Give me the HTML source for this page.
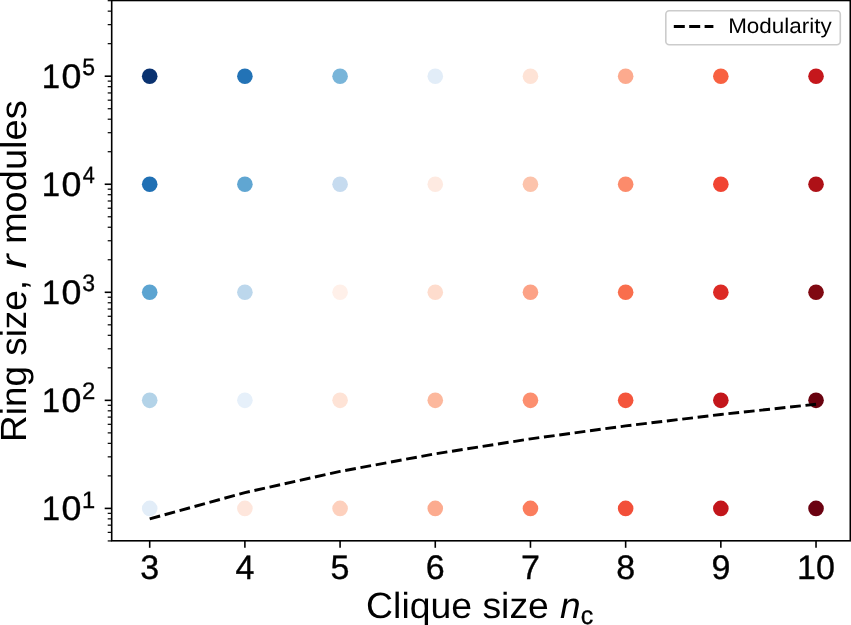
<!DOCTYPE html><html><head><meta charset="utf-8"><style>html,body{margin:0;padding:0;background:#fff;width:851px;height:625px;overflow:hidden}svg{display:block;will-change:transform}text{font-family:"Liberation Sans",sans-serif;fill:#000;text-rendering:geometricPrecision}</style></head><body>
<svg width="851" height="625" viewBox="0 0 851 625">
<rect x="0" y="0" width="851" height="625" fill="#fff"/>
<circle cx="149.70" cy="76.20" r="7.8" fill="#0a3270"/>
<circle cx="244.89" cy="76.20" r="7.8" fill="#2373b6"/>
<circle cx="340.08" cy="76.20" r="7.8" fill="#79b5d9"/>
<circle cx="435.27" cy="76.20" r="7.8" fill="#e2edf8"/>
<circle cx="530.46" cy="76.20" r="7.8" fill="#fee3d6"/>
<circle cx="625.65" cy="76.20" r="7.8" fill="#fcaa8e"/>
<circle cx="720.84" cy="76.20" r="7.8" fill="#f86141"/>
<circle cx="816.03" cy="76.20" r="7.8" fill="#c5171c"/>
<circle cx="149.70" cy="184.25" r="7.8" fill="#2070b4"/>
<circle cx="244.89" cy="184.25" r="7.8" fill="#60a6d2"/>
<circle cx="340.08" cy="184.25" r="7.8" fill="#c6dbef"/>
<circle cx="435.27" cy="184.25" r="7.8" fill="#feeae1"/>
<circle cx="530.46" cy="184.25" r="7.8" fill="#fcc3ab"/>
<circle cx="625.65" cy="184.25" r="7.8" fill="#fc8b6b"/>
<circle cx="720.84" cy="184.25" r="7.8" fill="#f14432"/>
<circle cx="816.03" cy="184.25" r="7.8" fill="#ae1117"/>
<circle cx="149.70" cy="292.30" r="7.8" fill="#5ca4d1"/>
<circle cx="244.89" cy="292.30" r="7.8" fill="#bcd7ec"/>
<circle cx="340.08" cy="292.30" r="7.8" fill="#fff0e9"/>
<circle cx="435.27" cy="292.30" r="7.8" fill="#fedccd"/>
<circle cx="530.46" cy="292.30" r="7.8" fill="#fca286"/>
<circle cx="625.65" cy="292.30" r="7.8" fill="#f96e4d"/>
<circle cx="720.84" cy="292.30" r="7.8" fill="#dc2a25"/>
<circle cx="816.03" cy="292.30" r="7.8" fill="#800912"/>
<circle cx="149.70" cy="400.35" r="7.8" fill="#b3d3e8"/>
<circle cx="244.89" cy="400.35" r="7.8" fill="#e6f0fa"/>
<circle cx="340.08" cy="400.35" r="7.8" fill="#fee3d6"/>
<circle cx="435.27" cy="400.35" r="7.8" fill="#fcb89d"/>
<circle cx="530.46" cy="400.35" r="7.8" fill="#fc8f6f"/>
<circle cx="625.65" cy="400.35" r="7.8" fill="#f4553c"/>
<circle cx="720.84" cy="400.35" r="7.8" fill="#c3161b"/>
<circle cx="816.03" cy="400.35" r="7.8" fill="#69020f"/>
<circle cx="149.70" cy="508.40" r="7.8" fill="#e2edf8"/>
<circle cx="244.89" cy="508.40" r="7.8" fill="#fee6dc"/>
<circle cx="340.08" cy="508.40" r="7.8" fill="#fdd0bd"/>
<circle cx="435.27" cy="508.40" r="7.8" fill="#fcab8f"/>
<circle cx="530.46" cy="508.40" r="7.8" fill="#fb7d5d"/>
<circle cx="625.65" cy="508.40" r="7.8" fill="#f24f39"/>
<circle cx="720.84" cy="508.40" r="7.8" fill="#c2161b"/>
<circle cx="816.03" cy="508.40" r="7.8" fill="#6b0211"/>
<path d="M149.70,518.87 L244.89,492.61 L340.08,471.40 L435.27,453.82 L530.46,438.87 L625.65,425.91 L720.84,414.48 L816.03,404.26" fill="none" stroke="#000" stroke-width="2.9" stroke-dasharray="10.8,4.7"/>
<rect x="111.7" y="0.5" width="738.5999999999999" height="540.3" fill="none" stroke="#000" stroke-width="1.6"/>
<line x1="104.7" y1="508.40" x2="111.7" y2="508.40" stroke="#000" stroke-width="1.6"/>
<line x1="104.7" y1="400.35" x2="111.7" y2="400.35" stroke="#000" stroke-width="1.6"/>
<line x1="104.7" y1="292.30" x2="111.7" y2="292.30" stroke="#000" stroke-width="1.6"/>
<line x1="104.7" y1="184.25" x2="111.7" y2="184.25" stroke="#000" stroke-width="1.6"/>
<line x1="104.7" y1="76.20" x2="111.7" y2="76.20" stroke="#000" stroke-width="1.6"/>
<line x1="107.7" y1="540.93" x2="111.7" y2="540.93" stroke="#000" stroke-width="1.2"/>
<line x1="107.7" y1="532.37" x2="111.7" y2="532.37" stroke="#000" stroke-width="1.2"/>
<line x1="107.7" y1="525.14" x2="111.7" y2="525.14" stroke="#000" stroke-width="1.2"/>
<line x1="107.7" y1="518.87" x2="111.7" y2="518.87" stroke="#000" stroke-width="1.2"/>
<line x1="107.7" y1="513.34" x2="111.7" y2="513.34" stroke="#000" stroke-width="1.2"/>
<line x1="107.7" y1="475.87" x2="111.7" y2="475.87" stroke="#000" stroke-width="1.2"/>
<line x1="107.7" y1="456.85" x2="111.7" y2="456.85" stroke="#000" stroke-width="1.2"/>
<line x1="107.7" y1="443.35" x2="111.7" y2="443.35" stroke="#000" stroke-width="1.2"/>
<line x1="107.7" y1="432.88" x2="111.7" y2="432.88" stroke="#000" stroke-width="1.2"/>
<line x1="107.7" y1="424.32" x2="111.7" y2="424.32" stroke="#000" stroke-width="1.2"/>
<line x1="107.7" y1="417.09" x2="111.7" y2="417.09" stroke="#000" stroke-width="1.2"/>
<line x1="107.7" y1="410.82" x2="111.7" y2="410.82" stroke="#000" stroke-width="1.2"/>
<line x1="107.7" y1="405.29" x2="111.7" y2="405.29" stroke="#000" stroke-width="1.2"/>
<line x1="107.7" y1="367.82" x2="111.7" y2="367.82" stroke="#000" stroke-width="1.2"/>
<line x1="107.7" y1="348.80" x2="111.7" y2="348.80" stroke="#000" stroke-width="1.2"/>
<line x1="107.7" y1="335.30" x2="111.7" y2="335.30" stroke="#000" stroke-width="1.2"/>
<line x1="107.7" y1="324.83" x2="111.7" y2="324.83" stroke="#000" stroke-width="1.2"/>
<line x1="107.7" y1="316.27" x2="111.7" y2="316.27" stroke="#000" stroke-width="1.2"/>
<line x1="107.7" y1="309.04" x2="111.7" y2="309.04" stroke="#000" stroke-width="1.2"/>
<line x1="107.7" y1="302.77" x2="111.7" y2="302.77" stroke="#000" stroke-width="1.2"/>
<line x1="107.7" y1="297.24" x2="111.7" y2="297.24" stroke="#000" stroke-width="1.2"/>
<line x1="107.7" y1="259.77" x2="111.7" y2="259.77" stroke="#000" stroke-width="1.2"/>
<line x1="107.7" y1="240.75" x2="111.7" y2="240.75" stroke="#000" stroke-width="1.2"/>
<line x1="107.7" y1="227.25" x2="111.7" y2="227.25" stroke="#000" stroke-width="1.2"/>
<line x1="107.7" y1="216.78" x2="111.7" y2="216.78" stroke="#000" stroke-width="1.2"/>
<line x1="107.7" y1="208.22" x2="111.7" y2="208.22" stroke="#000" stroke-width="1.2"/>
<line x1="107.7" y1="200.99" x2="111.7" y2="200.99" stroke="#000" stroke-width="1.2"/>
<line x1="107.7" y1="194.72" x2="111.7" y2="194.72" stroke="#000" stroke-width="1.2"/>
<line x1="107.7" y1="189.19" x2="111.7" y2="189.19" stroke="#000" stroke-width="1.2"/>
<line x1="107.7" y1="151.72" x2="111.7" y2="151.72" stroke="#000" stroke-width="1.2"/>
<line x1="107.7" y1="132.70" x2="111.7" y2="132.70" stroke="#000" stroke-width="1.2"/>
<line x1="107.7" y1="119.20" x2="111.7" y2="119.20" stroke="#000" stroke-width="1.2"/>
<line x1="107.7" y1="108.73" x2="111.7" y2="108.73" stroke="#000" stroke-width="1.2"/>
<line x1="107.7" y1="100.17" x2="111.7" y2="100.17" stroke="#000" stroke-width="1.2"/>
<line x1="107.7" y1="92.94" x2="111.7" y2="92.94" stroke="#000" stroke-width="1.2"/>
<line x1="107.7" y1="86.67" x2="111.7" y2="86.67" stroke="#000" stroke-width="1.2"/>
<line x1="107.7" y1="81.14" x2="111.7" y2="81.14" stroke="#000" stroke-width="1.2"/>
<line x1="107.7" y1="43.67" x2="111.7" y2="43.67" stroke="#000" stroke-width="1.2"/>
<line x1="107.7" y1="24.65" x2="111.7" y2="24.65" stroke="#000" stroke-width="1.2"/>
<line x1="107.7" y1="11.15" x2="111.7" y2="11.15" stroke="#000" stroke-width="1.2"/>
<line x1="107.7" y1="0.68" x2="111.7" y2="0.68" stroke="#000" stroke-width="1.2"/>
<line x1="149.70" y1="540.8" x2="149.70" y2="547.8" stroke="#000" stroke-width="1.6"/>
<line x1="244.89" y1="540.8" x2="244.89" y2="547.8" stroke="#000" stroke-width="1.6"/>
<line x1="340.08" y1="540.8" x2="340.08" y2="547.8" stroke="#000" stroke-width="1.6"/>
<line x1="435.27" y1="540.8" x2="435.27" y2="547.8" stroke="#000" stroke-width="1.6"/>
<line x1="530.46" y1="540.8" x2="530.46" y2="547.8" stroke="#000" stroke-width="1.6"/>
<line x1="625.65" y1="540.8" x2="625.65" y2="547.8" stroke="#000" stroke-width="1.6"/>
<line x1="720.84" y1="540.8" x2="720.84" y2="547.8" stroke="#000" stroke-width="1.6"/>
<line x1="816.03" y1="540.8" x2="816.03" y2="547.8" stroke="#000" stroke-width="1.6"/>
<text x="149.70" y="578.8" font-size="34" text-anchor="middle" stroke="#000" stroke-width="0.35">3</text>
<text x="244.89" y="578.8" font-size="34" text-anchor="middle" stroke="#000" stroke-width="0.35">4</text>
<text x="340.08" y="578.8" font-size="34" text-anchor="middle" stroke="#000" stroke-width="0.35">5</text>
<text x="435.27" y="578.8" font-size="34" text-anchor="middle" stroke="#000" stroke-width="0.35">6</text>
<text x="530.46" y="578.8" font-size="34" text-anchor="middle" stroke="#000" stroke-width="0.35">7</text>
<text x="625.65" y="578.8" font-size="34" text-anchor="middle" stroke="#000" stroke-width="0.35">8</text>
<text x="720.84" y="578.8" font-size="34" text-anchor="middle" stroke="#000" stroke-width="0.35">9</text>
<text x="816.03" y="578.8" font-size="34" text-anchor="middle" stroke="#000" stroke-width="0.35">10</text>
<text transform="translate(41.70,519.70) scale(0.9690,1)" font-size="34" stroke="#000" stroke-width="0.35">1</text>
<text transform="translate(61.60,519.70) scale(1.0522,1)" font-size="34" stroke="#000" stroke-width="0.35">0</text>
<text transform="translate(82.10,507.50) scale(0.9944,1)" font-size="23.8" stroke="#000" stroke-width="0.35">1</text>
<text transform="translate(41.70,411.65) scale(0.9690,1)" font-size="34" stroke="#000" stroke-width="0.35">1</text>
<text transform="translate(61.60,411.65) scale(1.0522,1)" font-size="34" stroke="#000" stroke-width="0.35">0</text>
<text transform="translate(82.00,399.45) scale(1.0043,1)" font-size="23.8" stroke="#000" stroke-width="0.35">2</text>
<text transform="translate(41.70,303.60) scale(0.9690,1)" font-size="34" stroke="#000" stroke-width="0.35">1</text>
<text transform="translate(61.60,303.60) scale(1.0522,1)" font-size="34" stroke="#000" stroke-width="0.35">0</text>
<text transform="translate(82.33,291.40) scale(0.9662,1)" font-size="23.8" stroke="#000" stroke-width="0.35">3</text>
<text transform="translate(41.70,195.55) scale(0.9690,1)" font-size="34" stroke="#000" stroke-width="0.35">1</text>
<text transform="translate(61.60,195.55) scale(1.0522,1)" font-size="34" stroke="#000" stroke-width="0.35">0</text>
<text transform="translate(82.70,183.35) scale(0.9087,1)" font-size="23.8" stroke="#000" stroke-width="0.35">4</text>
<text transform="translate(41.70,87.50) scale(0.9690,1)" font-size="34" stroke="#000" stroke-width="0.35">1</text>
<text transform="translate(61.60,87.50) scale(1.0522,1)" font-size="34" stroke="#000" stroke-width="0.35">0</text>
<text transform="translate(82.28,75.30) scale(0.9662,1)" font-size="23.8" stroke="#000" stroke-width="0.35">5</text>
<text transform="translate(26.05,441.88) rotate(-90) scale(1.0135,1)" font-size="36.4">Ring size,</text>
<text transform="translate(26.05,268.52) rotate(-90) scale(1.1617,1)" font-size="36.4" font-style="italic">r</text>
<text transform="translate(26.05,244.11) rotate(-90) scale(1.0457,1)" font-size="36.4">modules</text>
<text transform="translate(366.09,618.20) scale(1.0271,1)" font-size="36.4">Clique size</text>
<text transform="translate(560.07,618.10) scale(1.0177,1)" font-size="36.4" font-style="italic">n</text>
<text transform="translate(580.75,623.80) scale(0.9804,1)" font-size="25.5" stroke="#000" stroke-width="0.3">c</text>
<rect x="665.8" y="10.8" width="174.5" height="34" rx="3.5" fill="#fff" fill-opacity="0.8" stroke="#cccccc" stroke-width="1.6"/>
<path d="M673.8,26.5 L713.4,26.5" stroke="#000" stroke-width="2.8" stroke-dasharray="11,4.4"/>
<text transform="translate(728.16,33.30) scale(1.0592,1)" font-size="21.2">Modularity</text>
</svg></body></html>
